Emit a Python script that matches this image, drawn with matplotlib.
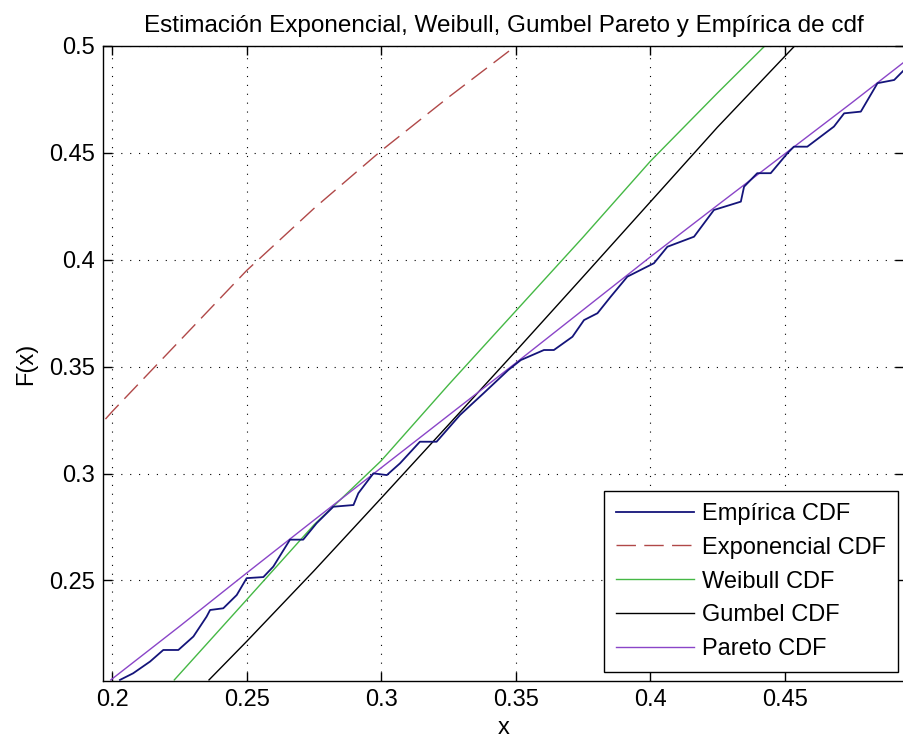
import matplotlib
matplotlib.use('Agg')
import matplotlib.pyplot as plt

# --- Datos ---
# CDF empírica (escalonada)
emp_x = [0.2029, 0.2078, 0.2141, 0.2190, 0.2246, 0.2302, 0.2351, 0.2364, 0.2413, 0.2463,
         0.2500, 0.2562, 0.2599, 0.2661, 0.2710, 0.2760, 0.2822, 0.2897, 0.2915, 0.2971,
         0.3021, 0.3070, 0.3144, 0.3206, 0.3293, 0.3380, 0.3473, 0.3519, 0.3605, 0.3642,
         0.3711, 0.3754, 0.3804, 0.3853, 0.3915, 0.4014, 0.4064, 0.4163, 0.4237, 0.4337,
         0.4349, 0.4398, 0.4448, 0.4510, 0.4534, 0.4584, 0.4683, 0.4721, 0.4783, 0.4845,
         0.4907, 0.4944]
emp_y = [0.2035, 0.2066, 0.2121, 0.2175, 0.2175, 0.2238, 0.2331, 0.2362, 0.2370, 0.2432,
         0.2511, 0.2516, 0.2565, 0.2691, 0.2691, 0.2768, 0.2845, 0.2853, 0.2908, 0.3001,
         0.2993, 0.3048, 0.3149, 0.3149, 0.3274, 0.3375, 0.3485, 0.3531, 0.3578, 0.3578,
         0.3640, 0.3718, 0.3750, 0.3827, 0.3921, 0.3984, 0.4061, 0.4108, 0.4233, 0.4272,
         0.4342, 0.4405, 0.4405, 0.4498, 0.4529, 0.4529, 0.4623, 0.4685, 0.4693, 0.4826,
         0.4841, 0.4888]

# Exponencial
exp_x = [0.1975, 0.200, 0.225, 0.250, 0.275, 0.300, 0.325, 0.350]
exp_y = [0.3255, 0.3290, 0.3620, 0.3950, 0.4240, 0.4510, 0.4760, 0.5000]

# Weibull
wei_x = [0.2231, 0.250, 0.275, 0.300, 0.325, 0.350, 0.375, 0.400, 0.425, 0.4426]
wei_y = [0.2035, 0.2410, 0.2760, 0.3060, 0.3415, 0.3760, 0.4105, 0.4460, 0.4780, 0.5000]

# Gumbel
gum_x = [0.2360, 0.250, 0.275, 0.300, 0.325, 0.350, 0.375, 0.400, 0.425, 0.4537]
gum_y = [0.2035, 0.2215, 0.2545, 0.2885, 0.3228, 0.3572, 0.3920, 0.4270, 0.4620, 0.5000]

# Pareto
par_x = [0.1995, 0.225, 0.250, 0.275, 0.300, 0.325, 0.350, 0.375, 0.400, 0.425, 0.450, 0.475, 0.4944]
par_y = [0.2035, 0.2285, 0.2535, 0.2782, 0.3027, 0.3272, 0.3517, 0.3765, 0.4013, 0.4255, 0.4495, 0.4735, 0.4925]

xticks = [0.2, 0.25, 0.3, 0.35, 0.4, 0.45]
xtick_labels = ['0.2', '0.25', '0.3', '0.35', '0.4', '0.45']
yticks = [0.25, 0.3, 0.35, 0.4, 0.45, 0.5]
ytick_labels = ['0.25', '0.3', '0.35', '0.4', '0.45', '0.5']

plt.rcParams['font.family'] = ['Liberation Sans', 'DejaVu Sans']

fig = plt.figure(figsize=(9.04, 7.44), dpi=100)
ax = fig.add_axes([0.1139, 0.0847, 0.8861, 0.8535])

ax.plot(emp_x, emp_y, color='#14147a', lw=1.3, label='Empírica CDF', zorder=3)
ax.plot(exp_x, exp_y, color='#b04848', lw=1.0, linestyle=(0, (14, 6)), label='Exponencial CDF')
ax.plot(wei_x, wei_y, color='#45b845', lw=1.0, label='Weibull CDF')
ax.plot(gum_x, gum_y, color='black', lw=1.0, label='Gumbel CDF')
ax.plot(par_x, par_y, color='#8a45c8', lw=1.0, label='Pareto CDF', zorder=2)

ax.set_xlim(0.19658, 0.49435)
ax.set_ylim(0.203, 0.5)
ax.set_xticks(xticks)
ax.set_xticklabels(xtick_labels)
ax.set_yticks(yticks)
ax.set_yticklabels(ytick_labels)

# Estilo MATLAB: rejilla punteada, ticks hacia dentro en los cuatro lados
ax.grid(True, color='black', linestyle=(0, (1, 7)), linewidth=0.8)
ax.tick_params(direction='in', length=6.5, width=1.0, top=True, right=True,
               labelsize=17, pad=6, colors='black')
for s in ax.spines.values():
    s.set_linewidth(1.0)

ax.set_title('Estimación Exponencial, Weibull, Gumbel Pareto y Empírica de cdf',
             fontsize=17.5, pad=10)
ax.set_xlabel('x', fontsize=17)
ax.set_ylabel('F(x)', fontsize=17)
ax.yaxis.set_label_coords(-0.0824, 0.5)

leg = ax.legend(loc='lower right', bbox_to_anchor=(0.9925, 0.0142), borderaxespad=0,
                fontsize=17, fancybox=False, framealpha=1, edgecolor='black',
                handlelength=3.3, handletextpad=0.35, labelspacing=0.5, borderpad=0.5)
leg.get_frame().set_linewidth(1.0)

plt.savefig('out.png', dpi=100)
plt.close()
